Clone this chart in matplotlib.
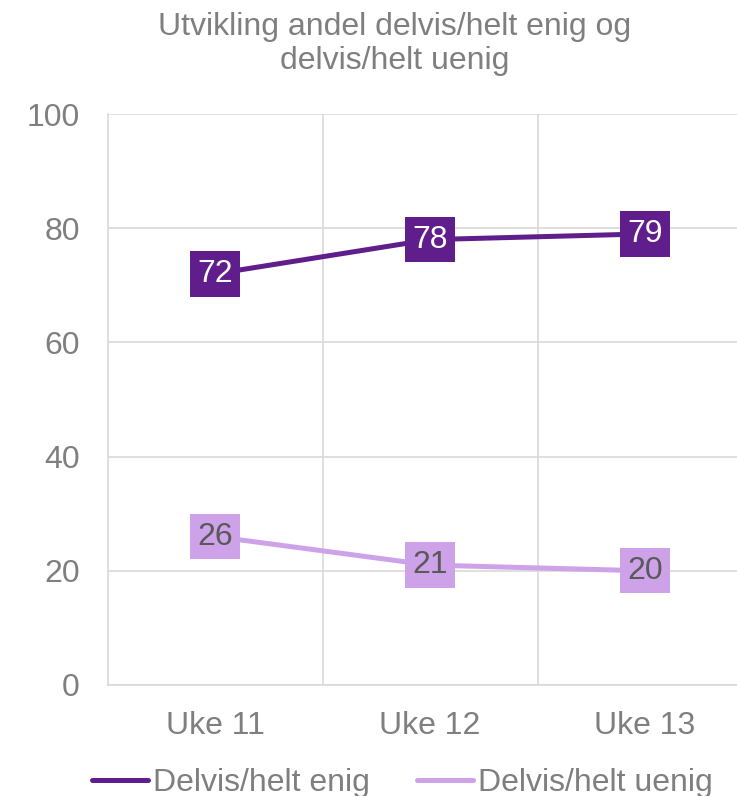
import matplotlib
matplotlib.use("Agg")
import matplotlib.pyplot as plt
from matplotlib.ticker import FixedLocator

plt.rcParams['font.family'] = ['Liberation Sans', 'DejaVu Sans']

weeks = ["Uke 11", "Uke 12", "Uke 13"]
enig = [72, 78, 79]
uenig = [26, 21, 20]
series_names = ["Delvis/helt enig", "Delvis/helt uenig"]
title = "Utvikling andel delvis/helt enig og\ndelvis/helt uenig"

dark = "#5F1E8B"
light = "#CDA2E8"
grey = "#7F7F7F"
grid = "#D9D9D9"

W, H = 737, 796
fig = plt.figure(figsize=(W / 100, H / 100), dpi=100)
# plot area runs past the right edge of the picture, like the reference
ax = fig.add_axes([107.5 / W, 1 - 685 / H, 645 / W, 571 / H])

x = range(len(weeks))
ax.plot(x, enig, color=dark, lw=3.6, solid_capstyle='round', label=series_names[0], zorder=3)
ax.plot(x, uenig, color=light, lw=3.6, solid_capstyle='round', label=series_names[1], zorder=3)

for xi, v in zip(x, enig):
    ax.text(xi, v, str(v), ha='center', va='center', fontsize=23, color='white', zorder=4,
            bbox=dict(boxstyle='square,pad=0.24', fc=dark, ec='none'))
for xi, v in zip(x, uenig):
    ax.text(xi, v, str(v), ha='center', va='center', fontsize=23, color='#595959', zorder=4,
            bbox=dict(boxstyle='square,pad=0.24', fc=light, ec='none'))

ax.set_xlim(-0.5, 2.5)
ax.set_ylim(0, 100)
ax.set_yticks(range(0, 101, 20))
ax.set_xticks(list(x))
ax.set_xticklabels(weeks)
ax.xaxis.set_minor_locator(FixedLocator([0.5, 1.5]))

ax.grid(axis='y', color=grid, lw=1.2)
ax.grid(axis='x', which='minor', color=grid, lw=1.2)
ax.set_axisbelow(True)
for side in ['top', 'right']:
    ax.spines[side].set_visible(False)
ax.spines['left'].set_color(grid)
ax.spines['left'].set_linewidth(1.2)
ax.spines['bottom'].set_color(grid)
ax.spines['bottom'].set_linewidth(1.2)

ax.tick_params(axis='y', length=0, pad=20, labelsize=23, labelcolor=grey)
ax.tick_params(axis='x', which='both', length=0, pad=19, labelsize=23, labelcolor=grey)

fig.text(395 / W, 1 - 44 / H, title, ha='center', va='center', fontsize=23,
         color=grey, linespacing=1.15)

fig.legend(loc='center left', bbox_to_anchor=(92 / W, 1 - 783 / H), ncol=2, frameon=False,
           fontsize=23, labelcolor=grey, handlelength=1.75, handletextpad=0.15,
           columnspacing=1.5, borderpad=0, borderaxespad=0)

fig.savefig("out.png", dpi=100)
